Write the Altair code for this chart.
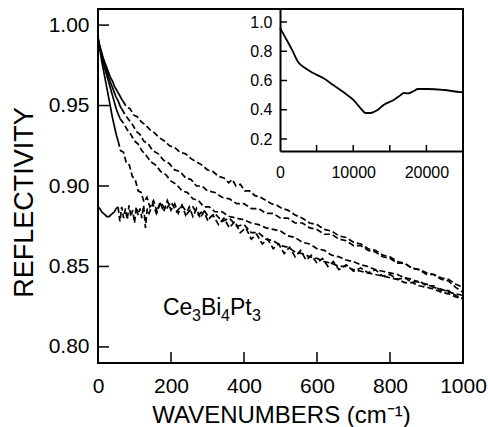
import altair as alt
import pandas as pd

FONT = "Liberation Sans, Arial, Helvetica, sans-serif"

# ---------------- main panel data (wavenumber cm^-1, reflectivity) ----------------
c1_solid_x = [0, 5, 10, 15, 20, 25, 30, 35, 40, 45, 50, 55, 60, 65, 68]
c1_solid_y = [0.992, 0.987, 0.983, 0.979, 0.976, 0.973, 0.970, 0.967, 0.965, 0.962, 0.960, 0.958, 0.956, 0.954, 0.953]
c1_dash_x = [68, 78, 88, 98, 108, 118, 130, 142, 155, 168, 182, 196, 210, 225, 240, 255, 270, 285,
             300, 315, 330, 345, 358, 368, 378, 390, 402, 415, 430, 445, 460, 475, 490, 505, 520, 540,
             560, 580, 600, 620, 640, 660, 680, 700, 720, 740, 760, 780, 800, 820, 840, 860, 880, 900,
             920, 940, 960, 980, 1000]
c1_dash_y = [0.953, 0.949, 0.948, 0.944, 0.943, 0.940, 0.938, 0.935, 0.933, 0.930, 0.928, 0.925,
             0.924, 0.921, 0.920, 0.917, 0.915, 0.913, 0.910, 0.909, 0.906, 0.905, 0.902, 0.904,
             0.900, 0.901, 0.897, 0.897, 0.894, 0.893, 0.891, 0.889, 0.888, 0.886, 0.885, 0.882,
             0.880, 0.877, 0.876, 0.873, 0.872, 0.869, 0.868, 0.865, 0.864, 0.861, 0.860, 0.857,
             0.856, 0.853, 0.852, 0.849, 0.848, 0.846, 0.845, 0.843, 0.842, 0.839, 0.837]

c2_solid_x = [0, 5, 10, 15, 20, 25, 30, 35, 40, 45, 50, 55, 60, 65]
c2_solid_y = [0.992, 0.986, 0.982, 0.978, 0.974, 0.971, 0.967, 0.964, 0.961, 0.958, 0.955, 0.953, 0.950, 0.948]
c2_dash_x = [65, 75, 85, 95, 105, 115, 125, 138, 150, 165, 180, 195, 210, 225, 240, 255, 270, 285,
             300, 320, 340, 360, 380, 400, 420, 440, 460, 480, 500, 520, 540, 560, 580, 600, 620, 640,
             660, 680, 700, 720, 740, 760, 780, 800, 820, 840, 860, 880, 900, 920, 940, 960, 980, 1000]
c2_dash_y = [0.948, 0.944, 0.941, 0.938, 0.934, 0.932, 0.928, 0.926, 0.922, 0.920, 0.916, 0.914,
             0.910, 0.909, 0.905, 0.904, 0.900, 0.900, 0.897, 0.896, 0.893, 0.892, 0.889, 0.889,
             0.886, 0.886, 0.883, 0.883, 0.880, 0.880, 0.877, 0.877, 0.874, 0.873, 0.870, 0.870,
             0.867, 0.866, 0.863, 0.863, 0.860, 0.859, 0.856, 0.855, 0.852, 0.852, 0.849, 0.848,
             0.845, 0.845, 0.842, 0.841, 0.837, 0.834]

c3_solid_x = [0, 5, 10, 15, 20, 25, 30, 35, 40, 45, 50, 55, 60]
c3_solid_y = [0.992, 0.986, 0.981, 0.976, 0.972, 0.968, 0.964, 0.960, 0.956, 0.952, 0.948, 0.945, 0.942]
c3_dash_x = [60, 70, 80, 90, 100, 110, 120, 132, 145, 158, 172, 186, 200, 215, 230, 245, 260, 275,
             290, 305, 320, 340, 360, 380, 400, 420, 440, 460, 480, 500, 520, 540, 560, 580, 600, 620,
             640, 660, 680, 700, 720, 740, 760, 780, 800, 820, 840, 860, 880, 900, 920, 940, 960, 980, 1000]
c3_dash_y = [0.942, 0.939, 0.935, 0.932, 0.928, 0.926, 0.922, 0.919, 0.915, 0.913, 0.909, 0.907,
             0.903, 0.901, 0.897, 0.896, 0.892, 0.891, 0.887, 0.887, 0.884, 0.884, 0.881, 0.880,
             0.879, 0.877, 0.876, 0.874, 0.873, 0.872, 0.869, 0.868, 0.865, 0.864, 0.861, 0.860,
             0.857, 0.856, 0.854, 0.853, 0.851, 0.850, 0.848, 0.847, 0.846, 0.845, 0.843, 0.842,
             0.840, 0.839, 0.837, 0.836, 0.834, 0.833, 0.832]

c4_solid_x = [0, 5, 10, 15, 20, 25, 30, 35, 40, 45, 50, 55]
c4_solid_y = [0.992, 0.985, 0.978, 0.972, 0.966, 0.960, 0.954, 0.948, 0.942, 0.937, 0.932, 0.928]
c4_dash_x = [55, 62, 70, 78, 86, 94, 102, 110, 118, 126, 134, 142, 152, 162, 172, 185, 200, 215,
             230, 245, 260, 275, 290, 305, 320, 340, 360, 380, 400, 420, 440, 460, 480, 500, 520, 540,
             560, 580, 600, 620, 640, 660, 680, 700, 720, 740, 760, 780, 800, 820, 840, 860, 880, 900,
             920, 940, 960, 980, 1000]
c4_dash_y = [0.928, 0.922, 0.921, 0.914, 0.913, 0.906, 0.904, 0.897, 0.896, 0.890, 0.893, 0.887,
             0.891, 0.884, 0.890, 0.885, 0.890, 0.884, 0.888, 0.883, 0.887, 0.882, 0.885, 0.880,
             0.883, 0.878, 0.880, 0.875, 0.876, 0.871, 0.871, 0.867, 0.866, 0.863, 0.862, 0.859,
             0.858, 0.856, 0.855, 0.853, 0.852, 0.850, 0.850, 0.848, 0.847, 0.846, 0.845, 0.844,
             0.843, 0.842, 0.840, 0.840, 0.838, 0.837, 0.836, 0.834, 0.833, 0.831, 0.830]

c5_solid_x = [0, 5, 10, 15, 20, 25, 30, 35, 40, 45, 50, 55]
c5_solid_y = [0.887, 0.886, 0.884, 0.883, 0.882, 0.881, 0.881, 0.882, 0.883, 0.884, 0.886, 0.887]
c5_dash_x = [55, 60, 65, 70, 75, 80, 85, 90, 95, 100, 105, 110, 115, 120, 125, 130, 135, 140,
             150, 160, 170, 180, 190, 200, 210, 220, 230, 240, 250, 260, 270, 280, 290, 300, 315, 330,
             345, 360, 375, 390, 405, 420, 435, 450, 465, 480, 495, 510, 525, 540, 555, 570, 585, 600,
             615, 630, 645, 660, 680, 700, 720, 740, 760, 780, 800, 820, 840, 860, 880, 900, 920, 940,
             960, 980, 1000]
c5_dash_y = [0.887, 0.878, 0.887, 0.880, 0.886, 0.879, 0.888, 0.881, 0.885, 0.877, 0.887, 0.882,
             0.886, 0.880, 0.888, 0.874, 0.886, 0.883, 0.889, 0.883, 0.890, 0.884, 0.891, 0.885,
             0.889, 0.883, 0.888, 0.882, 0.887, 0.881, 0.886, 0.880, 0.884, 0.879, 0.882, 0.876,
             0.880, 0.874, 0.878, 0.871, 0.874, 0.867, 0.870, 0.864, 0.867, 0.861, 0.864, 0.858,
             0.862, 0.856, 0.860, 0.854, 0.857, 0.852, 0.855, 0.850, 0.853, 0.848, 0.851, 0.847,
             0.849, 0.846, 0.848, 0.844, 0.845, 0.842, 0.843, 0.840, 0.841, 0.838, 0.838, 0.835,
             0.835, 0.832, 0.830]

# ---------------- inset data (wavenumber cm^-1, reflectivity) ----------------
inset_x = [0, 700, 1650, 2470, 3430, 4530, 5900, 7280, 8650, 10030, 10990, 11680, 12360, 13320,
           14140, 15520, 16480, 16900, 17500, 18270, 18820, 20190, 22380, 24700, 25000]
inset_y = [0.96, 0.897, 0.809, 0.726, 0.685, 0.651, 0.617, 0.569, 0.521, 0.467, 0.412, 0.378,
           0.378, 0.398, 0.433, 0.467, 0.500, 0.515, 0.512, 0.528, 0.542, 0.542, 0.535, 0.521, 0.520]

main_x_ticks = [0, 200, 400, 600, 800, 1000]
main_y_ticks = [0.80, 0.85, 0.90, 0.95, 1.00]
inner_x_marks = [200, 400, 600, 800]
inset_x_labels = [0, 10000, 20000]
inset_x_marks = [5000, 10000, 15000, 20000]
inset_y_ticks = [0.2, 0.4, 0.6, 0.8, 1.0]

# compound label "Ce3Bi4Pt3": element symbols and subscripts
compound_symbols = ["Ce", "Bi", "Pt"]
compound_subs = ["3", "4", "3"]
compound_x = 178
compound_y = 0.820


def rows(curve, style, xs, ys):
    assert len(xs) == len(ys), (curve, style, len(xs), len(ys))
    return [{"x": a, "y": b, "curve": curve, "style": style} for a, b in zip(xs, ys)]


records = []
records += rows("c1", "solid", c1_solid_x, c1_solid_y) + rows("c1", "dash", c1_dash_x, c1_dash_y)
records += rows("c2", "solid", c2_solid_x, c2_solid_y) + rows("c2", "dash", c2_dash_x, c2_dash_y)
records += rows("c3", "solid", c3_solid_x, c3_solid_y) + rows("c3", "dash", c3_dash_x, c3_dash_y)
records += rows("c4", "solid", c4_solid_x, c4_solid_y) + rows("c4", "dash", c4_dash_x, c4_dash_y)
records += rows("c5", "solid", c5_solid_x, c5_solid_y) + rows("c5", "dash", c5_dash_x, c5_dash_y)
df = pd.DataFrame(records)

assert len(inset_x) == len(inset_y)
inset_df = pd.DataFrame({"x": inset_x, "y": inset_y})

W, H = 365, 354

xscale = alt.Scale(domain=[0, 1000], nice=False, zero=False)
yscale = alt.Scale(domain=[0.79, 1.01], nice=False, zero=False)

x_axis = alt.Axis(values=main_x_ticks, format="d", ticks=False, domain=False, grid=False,
                  labelFont=FONT, labelFontSize=21, labelColor="black", labelPadding=12,
                  labelFlush=False, labelOverlap=False,
                  title="WAVENUMBERS (cm⁻¹)", titleFont=FONT, titleFontSize=24,
                  titleFontWeight="normal", titleColor="black", titleBaseline="alphabetic",
                  titleX=183, titleY=59)
y_axis = alt.Axis(values=main_y_ticks, format=".2f", ticks=False, domain=False, grid=False,
                  labelFont=FONT, labelFontSize=21, labelColor="black", labelPadding=9,
                  labelFlush=False, labelOverlap=False,
                  title="REFLECTIVITY", titleFont=FONT, titleFontSize=27,
                  titleFontWeight="normal", titleColor="black", titleBaseline="alphabetic",
                  titleX=-66, titleY=193)

base = alt.Chart(df)
solid = base.transform_filter(alt.datum.style == "solid").mark_line(
    color="black", strokeWidth=1.7, interpolate="monotone"
).encode(
    x=alt.X("x:Q", scale=xscale, axis=x_axis),
    y=alt.Y("y:Q", scale=yscale, axis=y_axis),
    detail="curve:N",
    order="x:Q",
)
dashed = base.transform_filter(alt.datum.style == "dash").mark_line(
    color="black", strokeWidth=1.7, strokeDash=[6, 3]
).encode(
    x=alt.X("x:Q", scale=xscale),
    y=alt.Y("y:Q", scale=yscale),
    detail="curve:N",
    order="x:Q",
)
xticks = alt.Chart(pd.DataFrame({"x": inner_x_marks})).mark_rule(color="black", strokeWidth=1.5).encode(
    x=alt.X("x:Q", scale=xscale), y=alt.value(H), y2=alt.value(H - 11)
)
yticks = alt.Chart(pd.DataFrame({"y": main_y_ticks})).mark_rule(color="black", strokeWidth=1.5).encode(
    y=alt.Y("y:Q", scale=yscale), x=alt.value(0), x2=alt.value(11)
)

lab_df = pd.DataFrame({"x": [compound_x], "y": [compound_y]})
lab_base = alt.Chart(lab_df)
sym_dx = [0, 38, 67]
sub_dx = [29, 58, 89]
label_layers = []
for s, d in zip(compound_symbols, sym_dx):
    label_layers.append(lab_base.mark_text(
        font=FONT, fontSize=23, align="left", baseline="alphabetic", color="black", dx=d, text=s
    ).encode(x=alt.X("x:Q", scale=xscale), y=alt.Y("y:Q", scale=yscale)))
for s, d in zip(compound_subs, sub_dx):
    label_layers.append(lab_base.mark_text(
        font=FONT, fontSize=16, align="left", baseline="alphabetic", color="black", dx=d, dy=6, text=s
    ).encode(x=alt.X("x:Q", scale=xscale), y=alt.Y("y:Q", scale=yscale)))

main = alt.layer(solid, dashed, xticks, yticks, *label_layers)

# ---------------- inset ----------------
ixscale = alt.Scale(domain=[0, 25000], range=[182, 365], nice=False, zero=False)
iyscale = alt.Scale(domain=[0.118, 1.089], range=[142, 0], nice=False, zero=False)

ix_axis = alt.Axis(orient="bottom", offset=-212, values=inset_x_labels, format="d", ticks=False,
                   domain=True, domainColor="black", domainWidth=2, grid=False,
                   labelFont=FONT, labelFontSize=16, labelColor="black", labelPadding=13,
                   labelFlush=False, labelOverlap=False, title=None)
iy_axis = alt.Axis(orient="left", offset=-182, values=inset_y_ticks, format=".1f", ticks=False,
                   domain=True, domainColor="black", domainWidth=2, grid=False,
                   labelFont=FONT, labelFontSize=16, labelColor="black", labelPadding=8,
                   labelFlush=False, labelOverlap=False, title=None)

inset_line = alt.Chart(inset_df).mark_line(color="black", strokeWidth=1.8, interpolate="monotone").encode(
    x=alt.X("x:Q", scale=ixscale, axis=ix_axis),
    y=alt.Y("y:Q", scale=iyscale, axis=iy_axis),
    order="x:Q",
)
ixticks = alt.Chart(pd.DataFrame({"x": inset_x_marks})).mark_rule(color="black", strokeWidth=1.5).encode(
    x=alt.X("x:Q", scale=ixscale), y=alt.value(142), y2=alt.value(136)
)
iyticks = alt.Chart(pd.DataFrame({"y": inset_y_ticks})).mark_rule(color="black", strokeWidth=1.5).encode(
    y=alt.Y("y:Q", scale=iyscale), x=alt.value(182), x2=alt.value(189)
)
inset = alt.layer(inset_line, ixticks, iyticks)

chart = alt.layer(main, inset).resolve_scale(x="independent", y="independent").properties(
    width=W, height=H,
    padding={"left": 98, "top": 9, "right": 25, "bottom": 64},
    autosize=alt.AutoSizeParams(type="none"),
    background="white",
).configure_view(stroke="black", strokeWidth=2)

chart.save("out.html", embed_options={"renderer": "svg", "actions": False})
